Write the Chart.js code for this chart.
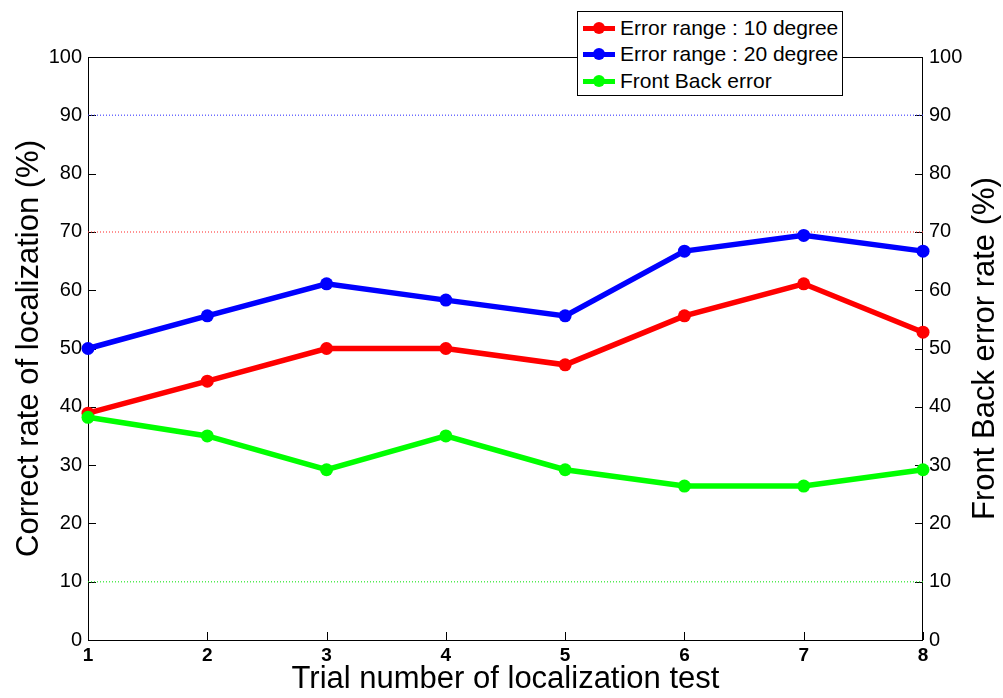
<!DOCTYPE html>
<html>
<head>
<meta charset="utf-8">
<script src="https://cdn.jsdelivr.net/npm/chart.js@4.4.1/dist/chart.umd.min.js"></script>
<style>
html, body { margin: 0; padding: 0; background: #fff; }
#wrap { position: relative; width: 1003px; height: 698px; }
#legend {
    position: absolute; left: 577px; top: 11px; width: 266px; height: 85px;
    border: 1px solid #000; background: #fff; box-sizing: border-box;
    font-family: 'Liberation Sans', Arial, sans-serif; font-size: 21px; color: #000;
}
.row { position: absolute; left: 5px; height: 24px; display: flex; align-items: center; white-space: nowrap; }
.sw { position: relative; width: 32px; height: 24px; margin-right: 5px; }
.sw .ln { position: absolute; left: 0; right: 0; top: 10px; height: 5px; }
.sw .dt { position: absolute; left: 10px; top: 6px; width: 12px; height: 12px; border-radius: 50%; }
</style>
</head>
<body>
<div id="wrap">
    <canvas id="chart" width="1003" height="698"></canvas>
    <div id="legend"></div>
</div>
<script>
// data
const trials = ['1', '2', '3', '4', '5', '6', '7', '8'];
const err10 = [38.9, 44.4, 50.0, 50.0, 47.2, 55.6, 61.1, 52.8];
const err20 = [50.0, 55.6, 61.1, 58.3, 55.6, 66.7, 69.4, 66.7];
const frontBack = [38.2, 35.0, 29.2, 35.0, 29.2, 26.4, 26.4, 29.2];
// dotted reference levels
const ref20 = [90, 90, 90, 90, 90, 90, 90, 90];
const ref10 = [70, 70, 70, 70, 70, 70, 70, 70];
const refFB = [10, 10, 10, 10, 10, 10, 10, 10];
const yTicks = [0, 10, 20, 30, 40, 50, 60, 70, 80, 90, 100];

const seriesNames = ['Error range : 10 degree', 'Error range : 20 degree', 'Front Back error'];
const seriesColors = ['#ff0000', '#0000ff', '#00ff00'];

const FONT = "'Liberation Sans', Arial, sans-serif";

// legend as html, sits over the top border like the matlab one
const legend = document.getElementById('legend');
const rowTops = [4, 30, 57];
seriesNames.forEach((name, i) => {
    const row = document.createElement('div');
    row.className = 'row';
    row.style.top = rowTops[i] + 'px';
    row.innerHTML = '<div class="sw"><div class="ln" style="background:' + seriesColors[i] + '"></div>' +
        '<div class="dt" style="background:' + seriesColors[i] + '"></div></div><span>' + name + '</span>';
    legend.appendChild(row);
});

// box, inward ticks and the right hand title
const matlabAxes = {
    id: 'matlabAxes',
    beforeDatasetsDraw(chart) {
        const { ctx, chartArea: a, scales } = chart;
        const len = 8;
        ctx.save();
        ctx.strokeStyle = '#000';
        ctx.lineWidth = 1;
        ctx.strokeRect(a.left + 0.5, a.top + 0.5, a.right - a.left - 1, a.bottom - a.top);
        ctx.beginPath();
        yTicks.forEach(v => {
            const y = Math.round(scales.y.getPixelForValue(v)) + 0.5;
            ctx.moveTo(a.left, y); ctx.lineTo(a.left + len, y);
            const y2 = Math.round(scales.y2.getPixelForValue(v)) + 0.5;
            ctx.moveTo(a.right, y2); ctx.lineTo(a.right - len, y2);
        });
        trials.forEach((t, i) => {
            const x = Math.round(scales.x.getPixelForValue(i)) + 0.5;
            ctx.moveTo(x, a.bottom); ctx.lineTo(x, a.bottom - len);
        });
        ctx.stroke();
        ctx.restore();
    },
    afterDraw(chart) {
        const { ctx, chartArea: a } = chart;
        ctx.save();
        ctx.translate(985, (a.top + a.bottom) / 2);
        ctx.rotate(-Math.PI / 2);
        ctx.font = '31px ' + FONT;
        ctx.fillStyle = '#000';
        ctx.textAlign = 'center';
        ctx.textBaseline = 'middle';
        ctx.fillText('Front Back error rate (%)', 0, 0);
        ctx.restore();
    }
};

function refLine(data, color, axis) {
    return {
        data: data, yAxisID: axis, borderColor: color, borderWidth: 1.5,
        borderDash: [1, 2], pointRadius: 0, fill: false, order: 10
    };
}

function mainLine(label, data, color, axis, order) {
    return {
        label: label, data: data, yAxisID: axis, borderColor: color, backgroundColor: color,
        borderWidth: 5.5, pointRadius: 6.5, pointHoverRadius: 6.5, pointBorderWidth: 0,
        tension: 0, fill: false, clip: false, order: order
    };
}

new Chart(document.getElementById('chart'), {
    type: 'line',
    data: {
        labels: trials,
        datasets: [
            refLine(ref20, 'rgba(60,60,255,0.75)', 'y'),
            refLine(ref10, 'rgba(255,60,60,0.75)', 'y'),
            refLine(refFB, 'rgba(40,230,40,0.8)', 'y2'),
            mainLine(seriesNames[0], err10, seriesColors[0], 'y', 1),
            mainLine(seriesNames[1], err20, seriesColors[1], 'y', 2),
            mainLine(seriesNames[2], frontBack, seriesColors[2], 'y2', 0)
        ]
    },
    options: {
        responsive: false,
        animation: false,
        devicePixelRatio: 1,
        layout: { padding: { top: 57, left: 0, right: 0, bottom: 0 } },
        plugins: { legend: { display: false }, tooltip: { enabled: false } },
        scales: {
            x: {
                type: 'category',
                offset: false,
                grid: { display: false, drawTicks: false },
                border: { display: false },
                ticks: { color: '#000', font: { family: FONT, size: 19, weight: 'bold' }, padding: 4, maxRotation: 0 },
                title: {
                    display: true, text: 'Trial number of localization test', color: '#000',
                    font: { family: FONT, size: 31 }, padding: { top: 0, bottom: 0 }
                },
                afterFit: s => { s.height = 58; }
            },
            y: {
                position: 'left', min: 0, max: 100,
                grid: { display: false, drawTicks: false },
                border: { display: false },
                afterBuildTicks: s => { s.ticks = yTicks.map(v => ({ value: v })); },
                ticks: { color: '#000', font: { family: FONT, size: 20 }, padding: 6 },
                title: {
                    display: true, text: 'Correct rate of localization (%)', color: '#000',
                    font: { family: FONT, size: 31 }, padding: { top: 11, bottom: 0 }
                },
                afterFit: s => { s.width = 88; }
            },
            y2: {
                position: 'right', min: 0, max: 100,
                grid: { display: false, drawTicks: false },
                border: { display: false },
                afterBuildTicks: s => { s.ticks = yTicks.map(v => ({ value: v })); },
                ticks: { color: '#000', font: { family: FONT, size: 20 }, padding: 6 },
                afterFit: s => { s.width = 80; }
            }
        }
    },
    plugins: [matlabAxes]
});
</script>
</body>
</html>
